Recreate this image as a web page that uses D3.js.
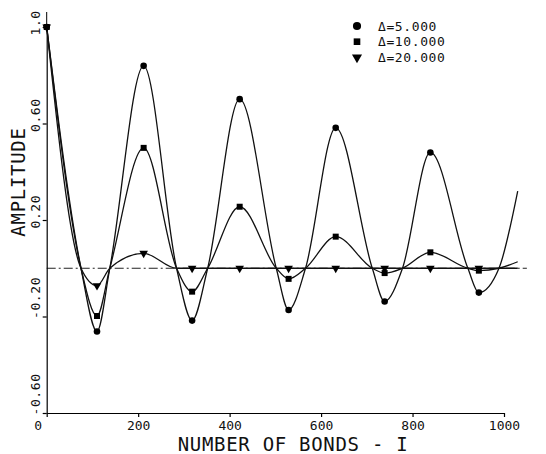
<!DOCTYPE html>
<html>
<head>
<meta charset="utf-8">
<script src="https://cdn.jsdelivr.net/npm/d3@7"></script>
<style>
  body { margin: 0; background: #fff; }
  text { font-family: "DejaVu Sans Mono", monospace; fill: #111; }
</style>
</head>
<body>
<svg id="chart" width="546" height="454"></svg>
<script>
// marker positions (number of bonds) and amplitudes
const bonds = [0, 110, 212, 318, 422, 529, 632, 739, 839, 945];
const ampD5 = [1.0, -0.262, 0.839, -0.217, 0.701, -0.173, 0.582, -0.138, 0.480, -0.101];
const ampD10 = [1.0, -0.198, 0.499, -0.097, 0.255, -0.044, 0.131, -0.02, 0.066, -0.01];
const ampD20 = [1.0, -0.072, 0.062, 0.0, 0.0, 0.0, 0.0, 0.0, 0.0, 0.0];
// where the curves cross the zero line, and where they stop
const crossings = [75, 138, 284, 352, 502, 566, 712, 778, 921, 989];
const curveEnd = 1030;
const endValues = [0.32, 0.027, 0.0];

const seriesNames = ['\u0394=5.000', '\u0394=10.000', '\u0394=20.000'];
const xTicks = [0, 200, 400, 600, 800, 1000];
const yTicks = [-0.6, -0.2, 0.2, 0.6, 1.0];
const yTickLabels = ['-0.60', '-0.20', '0.20', '0.60', '1.0'];

const svg = d3.select('#chart');

const x = d3.scaleLinear().domain([0, 1000]).range([46.7, 504]);
const y = d3.scaleLinear().domain([-0.6, 1.0]).range([413, 27]);

// build each curve from its markers plus the zero crossings
function curvePoints(amps, endVal) {
  const pts = bonds.map((b, i) => ({ b: b, v: amps[i] }));
  crossings.forEach(c => pts.push({ b: c, v: 0 }));
  pts.push({ b: curveEnd, v: endVal });
  return pts.sort((a, b) => a.b - b.b);
}

const allSeries = [ampD5, ampD10, ampD20];

// zero reference line (dash-dot)
svg.append('line')
  .attr('x1', x(0)).attr('x2', x(1050))
  .attr('y1', y(0)).attr('y2', y(0))
  .attr('stroke', '#222')
  .attr('stroke-width', 1.1)
  .attr('stroke-dasharray', '9,3,2,3');

// x axis
const xAxis = svg.append('g')
  .attr('transform', `translate(0,${y(-0.6)})`)
  .call(d3.axisBottom(x).tickValues(xTicks).tickSize(4).tickSizeOuter(0).tickFormat(d3.format('d')));
xAxis.selectAll('text')
  .attr('y', 8)
  .attr('dy', '0.71em')
  .style('font-size', '13px')
  .attr('dx', d => d === 0 ? -9 : 0);

// y axis
const yAxis = svg.append('g')
  .attr('transform', `translate(${x(0)},0)`)
  .call(d3.axisLeft(y).tickValues(yTicks).tickSize(4).tickSizeOuter(0).tickFormat((d, i) => yTickLabels[i]));
yAxis.selectAll('text')
  .attr('x', null).attr('dy', null)
  .style('font-size', '13px')
  .style('letter-spacing', '0.6px')
  .attr('text-anchor', 'start')
  .attr('transform', d => `translate(-7,${d < 0 ? 2 : 8}) rotate(-90)`);
// axis line runs a little above the top tick
svg.append('line')
  .attr('x1', x(0)).attr('x2', x(0))
  .attr('y1', 12).attr('y2', y(1.0))
  .attr('stroke', '#000');
svg.selectAll('.domain, .tick line').attr('stroke', '#000').attr('stroke-width', 1.2);
svg.selectAll('.tick text').attr('fill', '#111');

// axis titles
svg.append('text')
  .attr('x', 293).attr('y', 451)
  .attr('text-anchor', 'middle')
  .style('font-size', '19px')
  .style('letter-spacing', '0.7px')
  .text('NUMBER OF BONDS - I');

svg.append('text')
  .attr('transform', 'translate(25,182) rotate(-90)')
  .attr('text-anchor', 'middle')
  .style('font-size', '19px')
  .style('letter-spacing', '0.7px')
  .text('AMPLITUDE');

// curves
const line = d3.line()
  .x(d => x(d.b))
  .y(d => y(d.v))
  .curve(d3.curveMonotoneX);

allSeries.forEach((amps, i) => {
  svg.append('path')
    .datum(curvePoints(amps, endValues[i]))
    .attr('d', line)
    .attr('fill', 'none')
    .attr('stroke', '#111')
    .attr('stroke-width', 1.3);
});

// markers
const symbols = [d3.symbolCircle, d3.symbolSquare, d3.symbolTriangle];
const sizes = [34, 36, 32];
allSeries.forEach((amps, i) => {
  svg.append('g').selectAll('path')
    .data(bonds.map((b, j) => ({ b: b, v: amps[j] })))
    .join('path')
    .attr('d', d3.symbol().type(symbols[i]).size(sizes[i]))
    .attr('transform', d => `translate(${x(d.b)},${y(d.v)})` + (i === 2 ? ' rotate(180)' : ''))
    .attr('fill', '#000');
});

// legend
const legend = svg.append('g').attr('transform', 'translate(357,26)');
seriesNames.forEach((name, i) => {
  const row = legend.append('g').attr('transform', `translate(0,${i * 15.7})`);
  row.append('path')
    .attr('d', d3.symbol().type(symbols[i]).size([52, 44, 44][i]))
    .attr('transform', i === 2 ? 'rotate(180)' : null)
    .attr('fill', '#000');
  row.append('text')
    .attr('x', 21).attr('y', 4.5)
    .style('font-size', '13px')
    .style('letter-spacing', '0.6px')
    .text(name);
});
</script>
</body>
</html>
